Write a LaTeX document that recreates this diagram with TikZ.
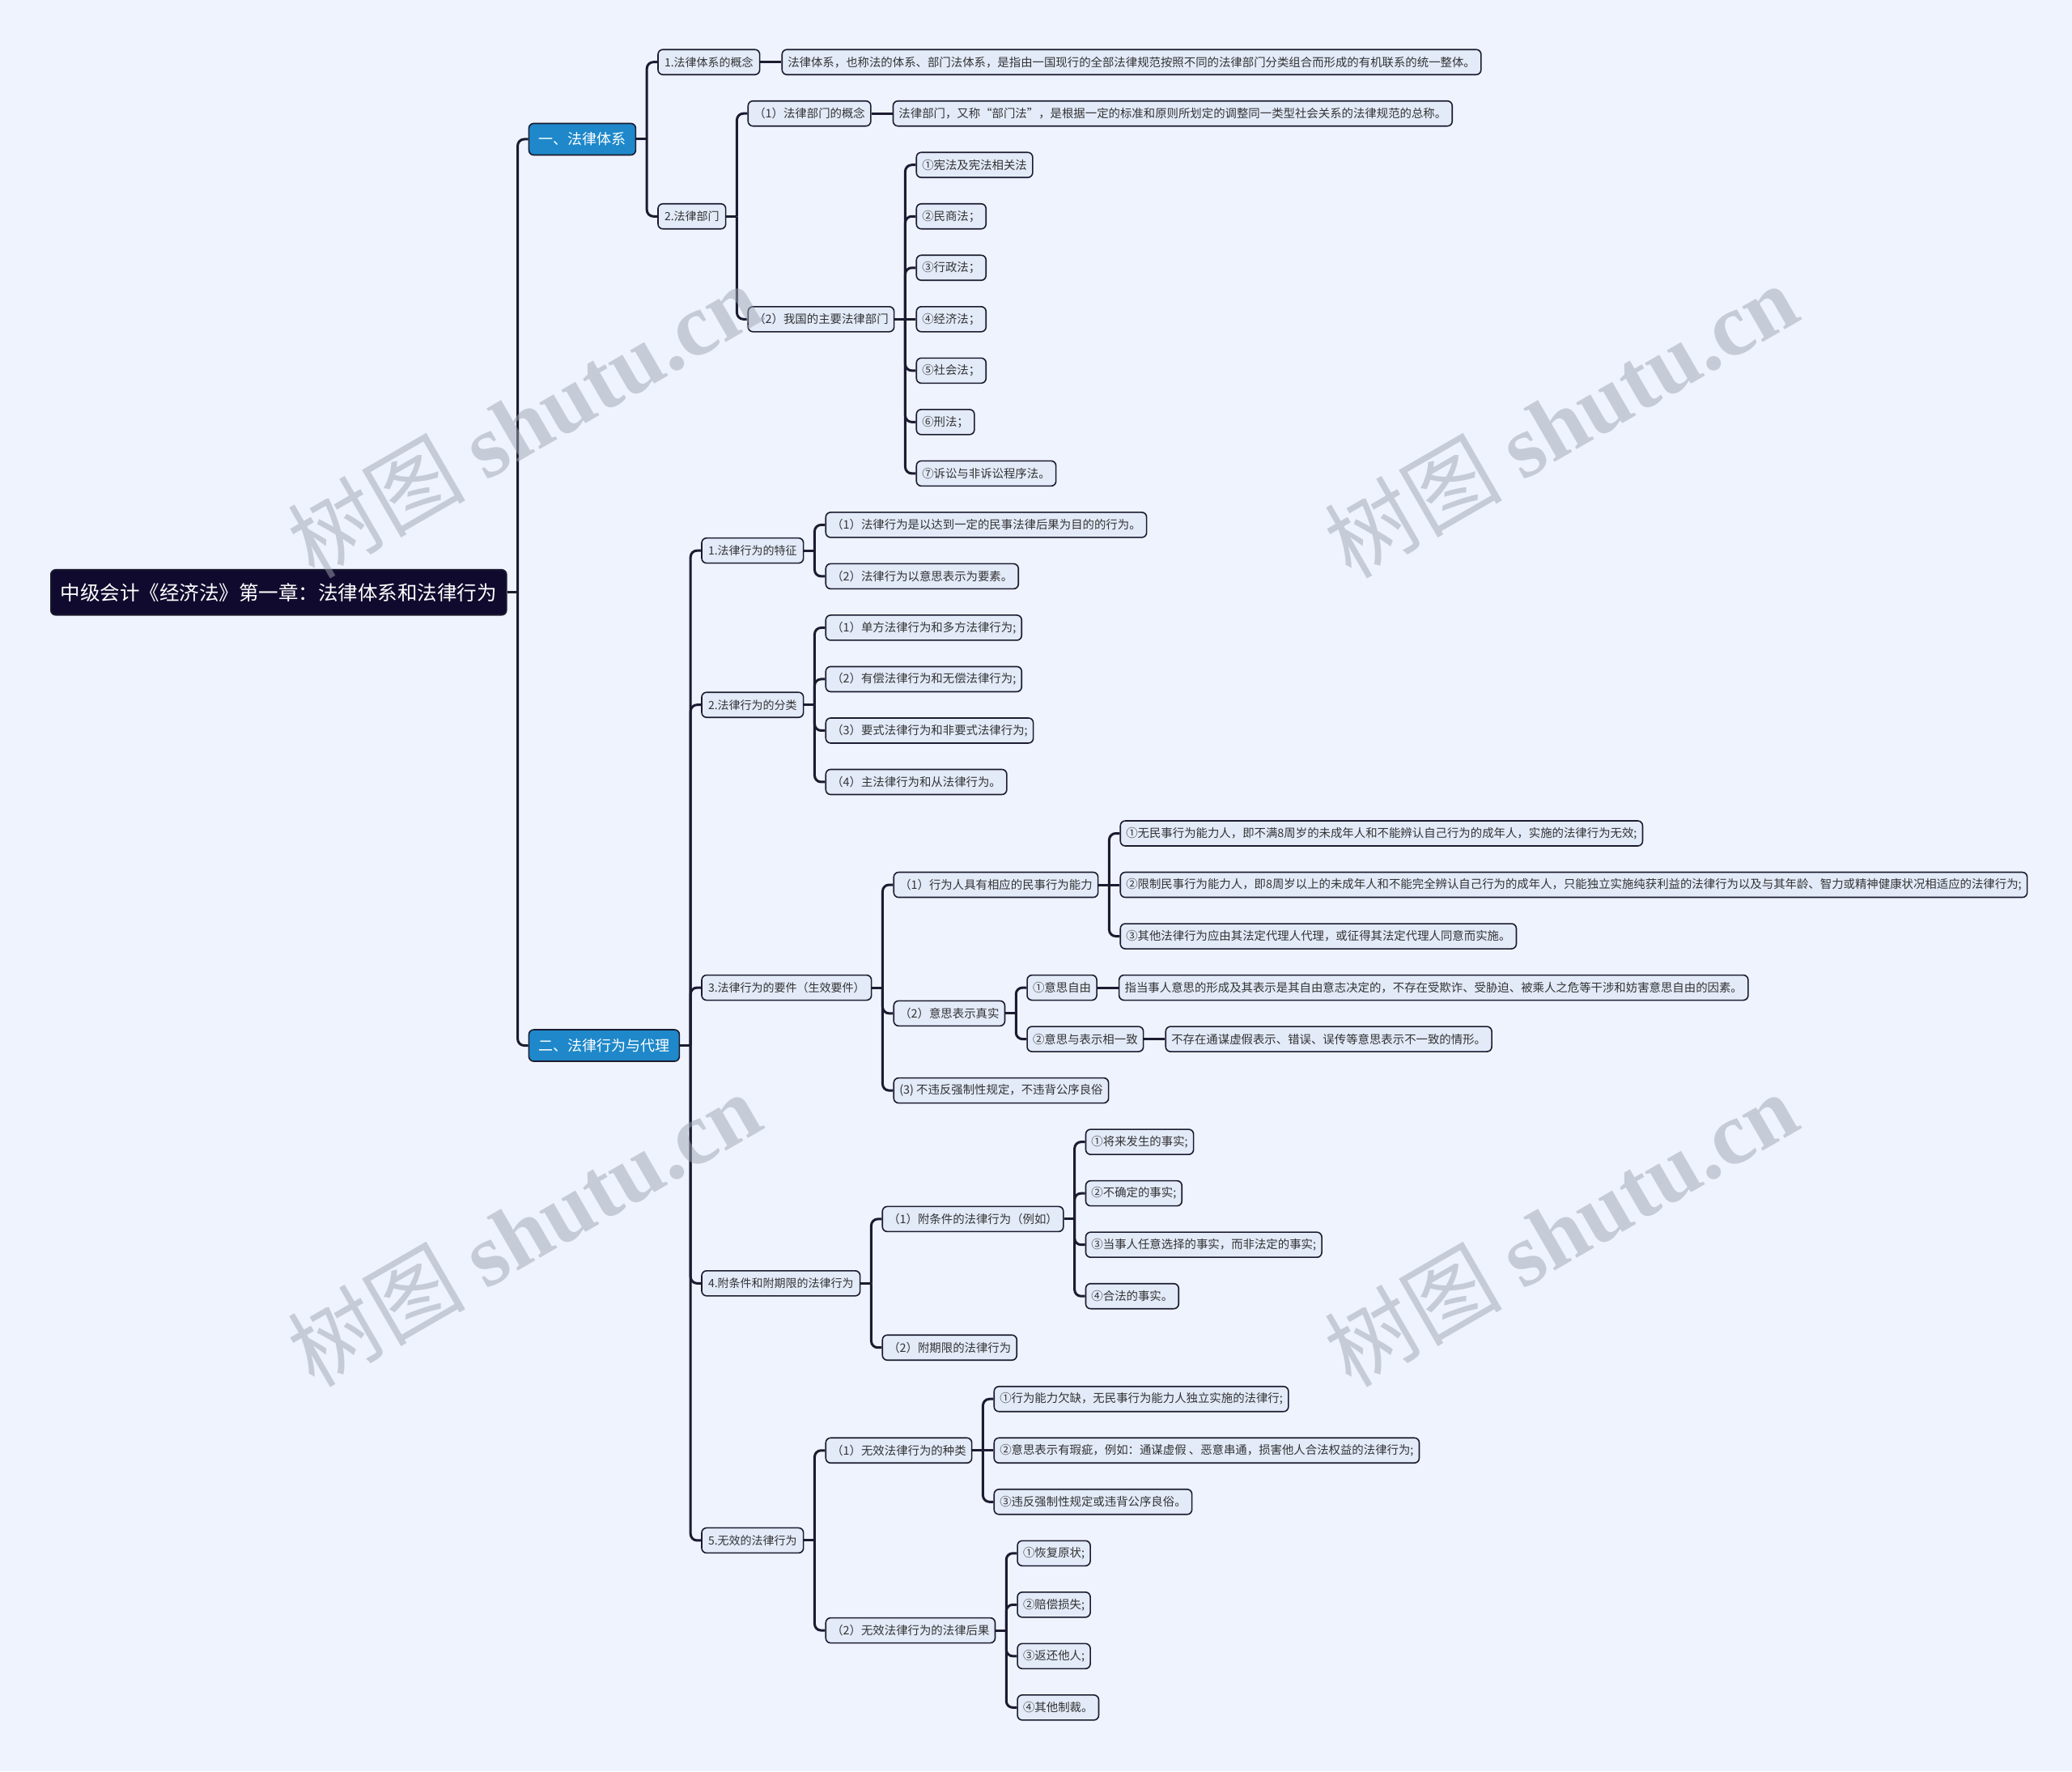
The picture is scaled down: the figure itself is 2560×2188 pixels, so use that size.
\documentclass[tikz,border=0pt]{standalone}
\usepackage{fontspec}
\setmainfont{Noto Sans CJK SC}
\newfontfamily\wmserif{Liberation Serif}
\usetikzlibrary{calc}
\definecolor{bgcol}{HTML}{EEF3FE}
\definecolor{boxfill}{HTML}{E3EBF9}
\definecolor{edgecol}{HTML}{1C1B30}
\definecolor{lvlblue}{HTML}{1E88CA}
\definecolor{rootfill}{HTML}{100B2E}
\definecolor{txtcol}{HTML}{333333}
\definecolor{wmgray}{HTML}{9EA4B2}
\pgfdeclarelayer{back}
\pgfdeclarelayer{connlayer}
\pgfsetlayers{back,connlayer,main}
\tikzset{
 basebox/.style={draw=edgecol, line width=1.6pt, rounded corners=6pt, anchor=west, inner ysep=0pt},
 box/.style={basebox, fill=boxfill, text=txtcol, font=\fontsize{14.4}{16}\selectfont, inner xsep=7pt, minimum height=31pt},
 lvtwo/.style={box, font=\fontsize{14}{16}\selectfont, inner xsep=8pt},
 lvone/.style={basebox, fill=lvlblue, text=white, font=\fontsize{18}{21}\selectfont, inner xsep=12pt, minimum height=39pt},
 rootbox/.style={basebox, fill=rootfill, text=white, font=\fontsize{24.5}{28}\selectfont, inner xsep=12pt, minimum height=56pt},
 conn/.style={draw=edgecol, line width=3pt},
 wm/.style={text=wmgray, text opacity=0.5, font=\fontsize{110}{120}\selectfont, inner sep=0pt, rotate=30},
}
\newcommand\mmkid[5][box]{%
 \pgfmathsetmacro\mmyy{76.7+63.52*#4}%
 \expandafter\xdef\csname mmrow@#2\endcsname{#4}%
 \path (#3.east) ++(26pt,0) coordinate (tmpk);
 \coordinate (tmpy) at (0,\mmyy);
 \node[#1] (#2) at (tmpk |- tmpy) {#5};
 \begin{pgfonlayer}{connlayer}
 \ifdim\csname mmrow@#3\endcsname pt=#4pt
   \draw[conn] (#3.east) -- (#2.west);
 \else
   \draw[conn] (#3.east) -- ++(13pt,0) coordinate (tmpj);
   \draw[conn,rounded corners=8pt] (tmpj) |- (#2.west);
 \fi
 \end{pgfonlayer}
}
\begin{document}
\begin{tikzpicture}[x=1pt,y=-1pt]
\begin{pgfonlayer}{back}
\fill[bgcol] (0,0) rectangle (2560,2188);
\end{pgfonlayer}
\useasboundingbox (0,0) rectangle (2560,2188);

\node[rootbox] (R) at (62,{76.7+63.52*10.3125}) {中级会计《经济法》第一章：法律体系和法律行为};
\expandafter\xdef\csname mmrow@R\endcsname{10.3125}

\mmkid[lvone]{L1}{R}{1.5}{一、法律体系}
\mmkid[lvone]{L2}{R}{19.125}{二、法律行为与代理}

\mmkid[lvtwo]{A1}{L1}{0}{1.法律体系的概念}
\mmkid{A1t}{A1}{0}{法律体系，也称法的体系、部门法体系，是指由一国现行的全部法律规范按照不同的法律部门分类组合而形成的有机联系的统一整体。}
\mmkid[lvtwo]{A2}{L1}{3}{2.法律部门}
\mmkid{A2a}{A2}{1}{（1）法律部门的概念}
\mmkid{A2at}{A2a}{1}{法律部门，又称“部门法”，是根据一定的标准和原则所划定的调整同一类型社会关系的法律规范的总称。}
\mmkid{A2b}{A2}{5}{（2）我国的主要法律部门}
\mmkid{A2b1}{A2b}{2}{①宪法及宪法相关法}
\mmkid{A2b2}{A2b}{3}{②民商法；}
\mmkid{A2b3}{A2b}{4}{③行政法；}
\mmkid{A2b4}{A2b}{5}{④经济法；}
\mmkid{A2b5}{A2b}{6}{⑤社会法；}
\mmkid{A2b6}{A2b}{7}{⑥刑法；}
\mmkid{A2b7}{A2b}{8}{⑦诉讼与非诉讼程序法。}

\mmkid[lvtwo]{B1}{L2}{9.5}{1.法律行为的特征}
\mmkid{B1a}{B1}{9}{（1）法律行为是以达到一定的民事法律后果为目的的行为。}
\mmkid{B1b}{B1}{10}{（2）法律行为以意思表示为要素。}
\mmkid[lvtwo]{B2}{L2}{12.5}{2.法律行为的分类}
\mmkid{B2a}{B2}{11}{（1）单方法律行为和多方法律行为;}
\mmkid{B2b}{B2}{12}{（2）有偿法律行为和无偿法律行为;}
\mmkid{B2c}{B2}{13}{（3）要式法律行为和非要式法律行为;}
\mmkid{B2d}{B2}{14}{（4）主法律行为和从法律行为。}
\mmkid[lvtwo]{B3}{L2}{18}{3.法律行为的要件（生效要件）}
\mmkid{B3a}{B3}{16}{（1）行为人具有相应的民事行为能力}
\mmkid{B3a1}{B3a}{15}{①无民事行为能力人，即不满8周岁的未成年人和不能辨认自己行为的成年人，实施的法律行为无效;}
\mmkid{B3a2}{B3a}{16}{②限制民事行为能力人，即8周岁以上的未成年人和不能完全辨认自己行为的成年人，只能独立实施纯获利益的法律行为以及与其年龄、智力或精神健康状况相适应的法律行为;}
\mmkid{B3a3}{B3a}{17}{③其他法律行为应由其法定代理人代理，或征得其法定代理人同意而实施。}
\mmkid{B3b}{B3}{18.5}{（2）意思表示真实}
\mmkid{B3b1}{B3b}{18}{①意思自由}
\mmkid{B3b1t}{B3b1}{18}{指当事人意思的形成及其表示是其自由意志决定的，不存在受欺诈、受胁迫、被乘人之危等干涉和妨害意思自由的因素。}
\mmkid{B3b2}{B3b}{19}{②意思与表示相一致}
\mmkid{B3b2t}{B3b2}{19}{不存在通谋虚假表示、错误、误传等意思表示不一致的情形。}
\mmkid{B3c}{B3}{20}{(3) 不违反强制性规定，不违背公序良俗}
\mmkid[lvtwo]{B4}{L2}{23.75}{4.附条件和附期限的法律行为}
\mmkid{B4a}{B4}{22.5}{（1）附条件的法律行为（例如）}
\mmkid{B4a1}{B4a}{21}{①将来发生的事实;}
\mmkid{B4a2}{B4a}{22}{②不确定的事实;}
\mmkid{B4a3}{B4a}{23}{③当事人任意选择的事实，而非法定的事实;}
\mmkid{B4a4}{B4a}{24}{④合法的事实。}
\mmkid{B4b}{B4}{25}{（2）附期限的法律行为}
\mmkid[lvtwo]{B5}{L2}{28.75}{5.无效的法律行为}
\mmkid{B5a}{B5}{27}{（1）无效法律行为的种类}
\mmkid{B5a1}{B5a}{26}{①行为能力欠缺，无民事行为能力人独立实施的法律行;}
\mmkid{B5a2}{B5a}{27}{②意思表示有瑕疵，例如：通谋虚假 、恶意串通，损害他人合法权益的法律行为;}
\mmkid{B5a3}{B5a}{28}{③违反强制性规定或违背公序良俗。}
\mmkid{B5b}{B5}{30.5}{（2）无效法律行为的法律后果}
\mmkid{B5b1}{B5b}{29}{①恢复原状;}
\mmkid{B5b2}{B5b}{30}{②赔偿损失;}
\mmkid{B5b3}{B5b}{31}{③返还他人;}
\mmkid{B5b4}{B5b}{32}{④其他制裁。}

\node[wm] (w1) at (647,519) {树图 {\wmserif\bfseries shutu.cn}};
\node[wm] (w2) at (1928,519) {树图 {\wmserif\bfseries shutu.cn}};
\node[wm] (w3) at (647,1518) {树图 {\wmserif\bfseries shutu.cn}};
\node[wm] (w4) at (1928,1518) {树图 {\wmserif\bfseries shutu.cn}};
\end{tikzpicture}
\end{document}
